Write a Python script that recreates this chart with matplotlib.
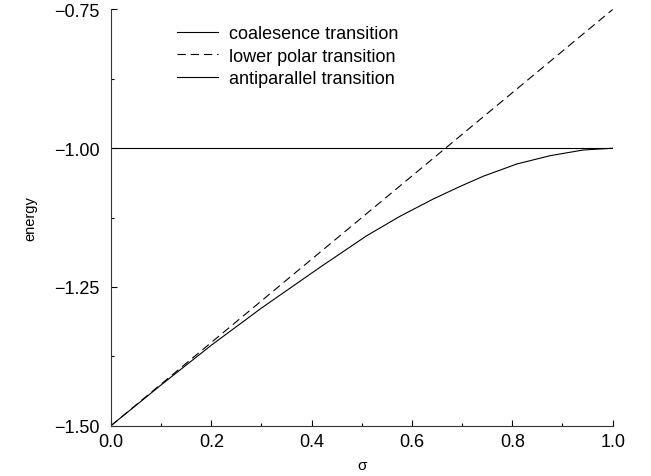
import matplotlib
matplotlib.use("Agg")
import matplotlib.pyplot as plt
from matplotlib.ticker import MultipleLocator

plt.rcParams['font.family'] = ['Liberation Sans', 'DejaVu Sans']
plt.rcParams['lines.scale_dashes'] = False

# coalescence transition (flat line)
coal_sigma = [0.0, 1.0]
coal_energy = [-1.0, -1.0]

# lower polar transition (straight dashed line)
polar_sigma = [0.0, 1.0]
polar_energy = [-1.5, -0.75]

# antiparallel transition
anti_sigma = [0.0, 0.1, 0.2, 0.3, 0.4166, 0.5097, 0.576, 0.6424, 0.6956,
              0.7421, 0.8087, 0.875, 0.9414, 1.0]
anti_energy = [-1.5, -1.4265, -1.355, -1.288, -1.2146, -1.1577, -1.1227, -1.0915, -1.069,
               -1.0505, -1.0285, -1.0135, -1.0032, -1.0]

fig = plt.figure(figsize=(6.51, 4.77), dpi=100)
ax = fig.add_axes([0.1705, 0.1055, 0.7706, 0.8725])

ax.plot(coal_sigma, coal_energy, color='black', lw=0.8, label='coalesence transition')
ax.plot(polar_sigma, polar_energy, color='black', lw=0.8, dashes=[6, 3.5],
        label='lower polar transition')
ax.plot(anti_sigma, anti_energy, color='black', lw=0.8, label='antiparallel transition')

ax.set_xlim(0, 1)
ax.set_ylim(-1.5, -0.75)
ax.xaxis.set_major_locator(MultipleLocator(0.2))
ax.xaxis.set_minor_locator(MultipleLocator(0.1))
ax.yaxis.set_major_locator(MultipleLocator(0.25))
ax.yaxis.set_minor_locator(MultipleLocator(0.125))
ax.xaxis.set_major_formatter(matplotlib.ticker.FormatStrFormatter('%.1f'))
ax.yaxis.set_major_formatter(matplotlib.ticker.FuncFormatter(lambda v, p: ('%.2f' % v).replace('-', '\u2212')))

ax.spines['top'].set_visible(False)
ax.spines['right'].set_visible(False)
for s in ('left', 'bottom'):
    ax.spines[s].set_linewidth(0.8)
    ax.spines[s].set_color('#333333')

ax.tick_params(which='major', direction='in', length=4.3, width=0.8, labelsize=13, pad=8)
ax.tick_params(which='minor', direction='in', length=2.3, width=0.8)
ax.tick_params(axis='x', which='major', pad=5)

ax.set_xlabel('\u03c3', fontsize=11, labelpad=6)
ax.set_ylabel('energy', fontsize=10.5, labelpad=12)

ax.legend(loc='upper left', bbox_to_anchor=(0.092, 1.0096), frameon=False, fontsize=13,
          handlelength=2.27, handletextpad=0.6, labelspacing=0.3, borderpad=0.6)

fig.savefig('out.png', dpi=100)
